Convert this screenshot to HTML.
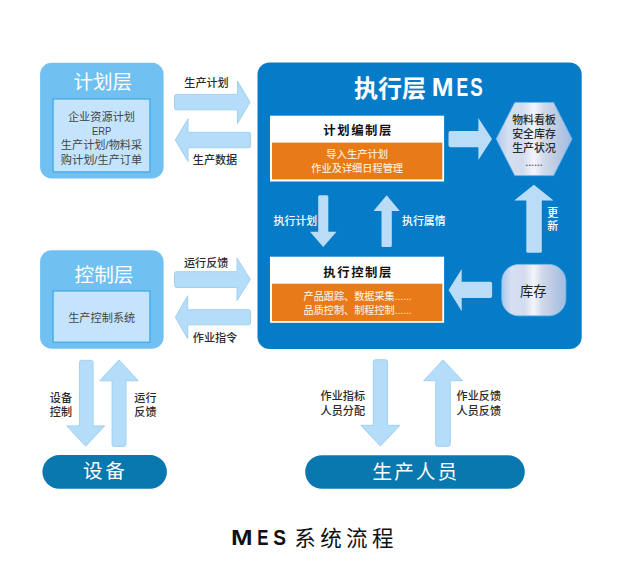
<!DOCTYPE html>
<html lang="zh-CN">
<head>
<meta charset="utf-8">
<title>MES 系统流程</title>
<style>
html,body{margin:0;padding:0;background:#ffffff;}
body{width:625px;height:581px;overflow:hidden;}
svg{display:block;font-family:"Liberation Sans","Noto Sans CJK SC",sans-serif;}
</style>
</head>
<body>
<svg width="625" height="581" viewBox="0 0 625 581">
<defs><linearGradient id="met" x1="0" y1="0" x2="1" y2="0"><stop offset="0" stop-color="#adc9ee"/><stop offset="0.15" stop-color="#d5e0f2"/><stop offset="0.35" stop-color="#d3dcee"/><stop offset="0.5" stop-color="#f3f5fa"/><stop offset="0.63" stop-color="#d0d9ea"/><stop offset="0.82" stop-color="#b9c8e2"/><stop offset="1" stop-color="#a2bce4"/></linearGradient></defs>
<rect x="40.1" y="62.8" width="123.5" height="115.6" rx="11.5" fill="#70c0f1"/>
<rect x="53.1" y="99" width="96.8" height="72.9" fill="#c4e4fc" stroke="#42a5e6" stroke-width="1.2"/>
<text x="102.8" y="89" font-size="19.6" fill="#fff" text-anchor="middle" font-weight="400">计划层</text>
<text x="101.5" y="120.7" font-size="11.2" fill="#444" text-anchor="middle">企业资源计划</text>
<text transform="translate(101.7,135.0) scale(0.84,1)" text-anchor="middle" font-size="11.2" fill="#444">ERP</text>
<text x="101.5" y="149.3" font-size="11.2" fill="#444" text-anchor="middle">生产计划/物料采</text>
<text x="101.5" y="163.6" font-size="11.2" fill="#444" text-anchor="middle">购计划/生产订单</text>
<rect x="40.1" y="250.2" width="123.5" height="98.5" rx="11.5" fill="#70c0f1"/>
<rect x="53.1" y="291" width="96.8" height="51.2" fill="#c4e4fc" stroke="#42a5e6" stroke-width="1.2"/>
<text x="104" y="282" font-size="19.6" fill="#fff" text-anchor="middle" font-weight="400">控制层</text>
<text x="101.7" y="321.8" font-size="11.2" fill="#444" text-anchor="middle">生产控制系统</text>
<path d="M176.5,94.4 L237.5,94.4 L237.5,81.0 L250.0,102.2 L237.5,123.4 L237.5,109.8 L176.5,109.8 Q174.5,109.8 174.5,107.8 L174.5,96.4 Q174.5,94.4 176.5,94.4 Z" fill="#b4ddfa" stroke="#a3d0f0" stroke-width="1" stroke-linejoin="round"/>
<path d="M248.5,132.3 L188.0,132.3 L188.0,118.8 L175.3,140.1 L188.0,161.4 L188.0,147.8 L248.5,147.8 Q250.5,147.8 250.5,145.8 L250.5,134.3 Q250.5,132.3 248.5,132.3 Z" fill="#b4ddfa" stroke="#a3d0f0" stroke-width="1" stroke-linejoin="round"/>
<path d="M176.5,271.7 L237.0,271.7 L237.0,258.2 L250.3,279.4 L237.0,300.6 L237.0,287.5 L176.5,287.5 Q174.5,287.5 174.5,285.5 L174.5,273.7 Q174.5,271.7 176.5,271.7 Z" fill="#b4ddfa" stroke="#a3d0f0" stroke-width="1" stroke-linejoin="round"/>
<path d="M248.5,309.7 L187.7,309.7 L187.7,295.8 L175.3,317.25 L187.7,338.7 L187.7,324.8 L248.5,324.8 Q250.5,324.8 250.5,322.8 L250.5,311.7 Q250.5,309.7 248.5,309.7 Z" fill="#b4ddfa" stroke="#a3d0f0" stroke-width="1" stroke-linejoin="round"/>
<text x="206.5" y="87" font-size="11.1" fill="#2a2a2a" text-anchor="middle" font-weight="500">生产计划</text>
<text x="215" y="163.8" font-size="11.1" fill="#2a2a2a" text-anchor="middle" font-weight="500">生产数据</text>
<text x="206.2" y="267.2" font-size="11.1" fill="#2a2a2a" text-anchor="middle" font-weight="500">运行反馈</text>
<text x="215" y="341.5" font-size="11.1" fill="#2a2a2a" text-anchor="middle" font-weight="500">作业指令</text>
<rect x="257.5" y="62.5" width="324.2" height="286.5" rx="12" fill="#067cc9"/>
<text font-size="24" fill="#fff" font-weight="700"><tspan x="354" y="96.8">执行层</tspan> <tspan x="431.75" y="96.3" font-size="26" font-weight="700" letter-spacing="0" textLength="21.80" lengthAdjust="spacingAndGlyphs">M</tspan><tspan x="456.53" y="96.3" font-size="26" font-weight="700" letter-spacing="0" textLength="11.65" lengthAdjust="spacingAndGlyphs">E</tspan><tspan x="470.36" y="96.3" font-size="26" font-weight="700" letter-spacing="0" textLength="12.47" lengthAdjust="spacingAndGlyphs">S</tspan></text>
<rect x="270" y="115.7" width="174.1" height="65.8" fill="#fff"/>
<rect x="272" y="142.6" width="170.3" height="36.8" fill="#e87a18"/>
<text x="358.1" y="135.2" font-size="12.3" fill="#111" text-anchor="middle" font-weight="700" letter-spacing="1.6">计划编制层</text>
<text x="357.2" y="158.4" font-size="10.3" fill="#fdebd6" text-anchor="middle" font-weight="500">导入生产计划</text>
<text x="357.2" y="172.2" font-size="10.2" fill="#fdebd6" text-anchor="middle" font-weight="500">作业及详细日程管理</text>
<rect x="270" y="256.7" width="174.1" height="66.1" fill="#fff"/>
<rect x="272" y="283.7" width="170.3" height="37.4" fill="#e87a18"/>
<text x="358.1" y="276.5" font-size="12.3" fill="#111" text-anchor="middle" font-weight="700" letter-spacing="1.6">执行控制层</text>
<text x="357.6" y="300.2" font-size="10.15" fill="#fdebd6" text-anchor="middle" font-weight="500">产品跟踪、数据采集......</text>
<text x="357.6" y="313.6" font-size="10.15" fill="#fdebd6" text-anchor="middle" font-weight="500">品质控制、制程控制......</text>
<path d="M318.2,196.7 Q318.2,195.2 319.7,195.2 L326.8,195.2 Q328.3,195.2 328.3,196.7 L328.3,231.8 L336.5,231.8 L323.25,246.9 L310.0,231.8 L318.2,231.8 Z" fill="#badcf7"/>
<path d="M381.5,245.4 Q381.5,246.9 383.0,246.9 L390.3,246.9 Q391.8,246.9 391.8,245.4 L391.8,211.0 L399.8,211.0 L386.65,195.2 L373.5,211.0 L381.5,211.0 Z" fill="#badcf7"/>
<text x="295.4" y="225.2" font-size="10.9" fill="#fff" text-anchor="middle" font-weight="500">执行计划</text>
<text x="423.8" y="225.2" font-size="10.9" fill="#fff" text-anchor="middle" font-weight="500">执行属情</text>
<path d="M450.5,131.0 L478.4,131.0 L478.4,117.9 L492.0,139.0 L478.4,160.1 L478.4,147.3 L450.5,147.3 Q448.5,147.3 448.5,145.3 L448.5,133.0 Q448.5,131.0 450.5,131.0 Z" fill="#badcf7"/>
<path d="M490.1,281.8 L461.7,281.8 L461.7,269.0 L448.6,290.1 L461.7,311.2 L461.7,298.1 L490.1,298.1 Q492.1,298.1 492.1,296.1 L492.1,283.8 Q492.1,281.8 490.1,281.8 Z" fill="#badcf7"/>
<path d="M526.3,251.2 Q526.3,252.7 527.8,252.7 L540.3,252.7 Q541.8,252.7 541.8,251.2 L541.8,200.4 L553.6,200.4 L533.9,184.8 L514.2,200.4 L526.3,200.4 Z" fill="#badcf7"/>
<text font-size="10.9" fill="#fff" text-anchor="middle" font-weight="500"><tspan x="552.6" y="216.7">更</tspan><tspan x="552.6" y="229.8">新</tspan></text>
<polygon points="496.2,138.9 514.8,102.4 553.6,102.4 572,138.9 553.6,175.6 514.8,175.6" fill="url(#met)" stroke="#6fb8ee" stroke-width="0.8"/>
<text x="534" y="123.6" font-size="10.9" fill="#2a2a2a" text-anchor="middle" font-weight="500">物料看板</text>
<text x="534" y="137.6" font-size="10.9" fill="#2a2a2a" text-anchor="middle" font-weight="500">安全库存</text>
<text x="534" y="151.6" font-size="10.9" fill="#2a2a2a" text-anchor="middle" font-weight="500">生产状况</text>
<text x="534.2" y="165.6" font-size="9" fill="#555" text-anchor="middle" font-weight="700" letter-spacing="0.4">......</text>
<rect x="501.8" y="264.4" width="64" height="51.4" rx="17" fill="url(#met)" stroke="#7fc0f0" stroke-width="0.8"/>
<text x="533.2" y="295.9" font-size="13.3" fill="#222" text-anchor="middle">库存</text>
<path d="M79.5,362.3 Q79.5,360.3 81.5,360.3 L91.1,360.3 Q93.1,360.3 93.1,362.3 L93.1,425.9 L104.6,425.9 L85.7,446.2 L66.8,425.9 L79.5,425.9 Z" fill="#b4ddfa" stroke="#a3d0f0" stroke-width="1" stroke-linejoin="round"/>
<path d="M112.1,444.4 Q112.1,446.4 114.1,446.4 L124.0,446.4 Q126.0,446.4 126.0,444.4 L126.0,380.8 L138.2,380.8 L119.0,359.9 L99.8,380.8 L112.1,380.8 Z" fill="#b4ddfa" stroke="#a3d0f0" stroke-width="1" stroke-linejoin="round"/>
<text x="60.9" y="401.5" font-size="11.1" fill="#2a2a2a" text-anchor="middle" font-weight="500">设备</text>
<text x="60.9" y="415.8" font-size="11.1" fill="#2a2a2a" text-anchor="middle" font-weight="500">控制</text>
<text x="145.4" y="401.5" font-size="11.1" fill="#2a2a2a" text-anchor="middle" font-weight="500">运行</text>
<text x="145.4" y="415.8" font-size="11.1" fill="#2a2a2a" text-anchor="middle" font-weight="500">反馈</text>
<path d="M373.3,361.7 Q373.3,359.7 375.3,359.7 L385.5,359.7 Q387.5,359.7 387.5,361.7 L387.5,425.3 L400.0,425.3 L380.4,446.1 L360.8,425.3 L373.3,425.3 Z" fill="#b4ddfa" stroke="#a3d0f0" stroke-width="1" stroke-linejoin="round"/>
<path d="M435.7,444.3 Q435.7,446.3 437.7,446.3 L448.3,446.3 Q450.3,446.3 450.3,444.3 L450.3,380.7 L462.4,380.7 L443.0,359.9 L423.6,380.7 L435.7,380.7 Z" fill="#b4ddfa" stroke="#a3d0f0" stroke-width="1" stroke-linejoin="round"/>
<text x="342.8" y="400.2" font-size="11.1" fill="#2a2a2a" text-anchor="middle" font-weight="500">作业指标</text>
<text x="342.8" y="415.4" font-size="11.1" fill="#2a2a2a" text-anchor="middle" font-weight="500">人员分配</text>
<text x="478.8" y="400.2" font-size="11.1" fill="#2a2a2a" text-anchor="middle" font-weight="500">作业反馈</text>
<text x="478.8" y="415.4" font-size="11.1" fill="#2a2a2a" text-anchor="middle" font-weight="500">人员反馈</text>
<rect x="42.4" y="455.1" width="124.5" height="33.6" rx="16.8" fill="#0978ae"/>
<text x="105.3" y="478" font-size="19.6" fill="#fff" text-anchor="middle" font-weight="400" letter-spacing="2.6">设备</text>
<rect x="305.2" y="455.2" width="219.6" height="33.6" rx="16.8" fill="#0978ae"/>
<text x="415.8" y="478.6" font-size="19.6" fill="#fff" text-anchor="middle" font-weight="400" letter-spacing="2">生产人员</text>
<text font-size="21.5" fill="#111"><tspan x="231.07" y="545.3" font-size="22" font-weight="700" letter-spacing="0" textLength="21.56" lengthAdjust="spacingAndGlyphs">M</tspan><tspan x="257.18" y="545.3" font-size="22" font-weight="700" letter-spacing="0" textLength="11.18" lengthAdjust="spacingAndGlyphs">E</tspan><tspan x="273.35" y="545.3" font-size="22" font-weight="700" letter-spacing="0" textLength="12.69" lengthAdjust="spacingAndGlyphs">S</tspan> <tspan x="294.3" y="546.4" letter-spacing="4.4">系统流程</tspan></text>
</svg>
</body>
</html>
